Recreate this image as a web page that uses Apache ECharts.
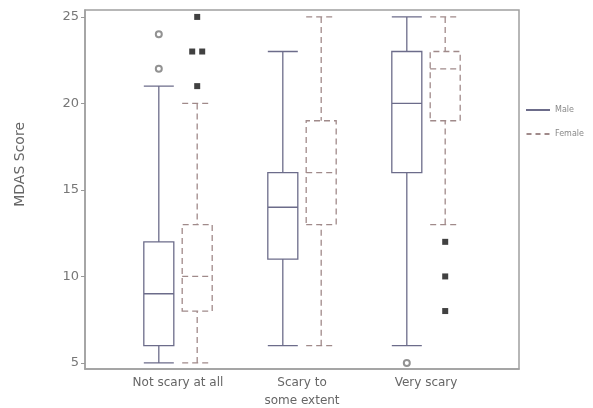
<!DOCTYPE html>
<html><head><meta charset="utf-8">
<script src="https://cdn.jsdelivr.net/npm/echarts@6/dist/echarts.min.js"></script>
<style>html,body{margin:0;padding:0;background:#fff}#c{width:593px;height:408px}</style>
</head><body><div id="c"></div>
<script>
const categories = ['Not scary at all', 'Scary to\nsome extent', 'Very scary'];
const yTicks = [5, 10, 15, 20, 25];
// [min, Q1, median, Q3, max]
const maleBoxes = [[5, 6, 9, 12, 21], [6, 11, 14, 16, 23], [6, 16, 20, 23, 25]];
const femaleBoxes = [[5, 8, 10, 13, 20], [6, 13, 16, 19, 25], [13, 19, 22, 23, 25]];
const maleOutliers = [[22, 24], [], [5]];
const femaleOutliers = [[21, 23, 23, 25], [], [8, 10, 12]];

const MALE = '#6c6c8a';
const FEMALE = '#a08a8a';
const OFF = 19.2;

// axis slots: an empty slot around every category
const slots = [];
categories.forEach(c => { slots.push(''); slots.push(c); });
slots.push('');
const slotOf = i => 2 * i + 1;

const boxData = boxes => boxes.map((b, i) => [slotOf(i)].concat(b));
function outlierData(groups, base) {
  const out = [];
  groups.forEach((vals, i) => {
    const counts = {};
    vals.forEach(v => { counts[v] = (counts[v] || 0) + 1; });
    const seen = {};
    vals.forEach(v => {
      const n = counts[v];
      const k = seen[v] = (seen[v] || 0) + 1;
      const dx = n > 1 ? (k - (n + 1) / 2) * 10 : 0;
      out.push({ value: [slotOf(i), v], symbolOffset: [base + dx, 0] });
    });
  });
  return out;
}

const chart = echarts.init(document.getElementById('c'), null, { renderer: 'canvas' });
const font = 'DejaVu Sans';
chart.setOption({
  animation: false,
  textStyle: { fontFamily: font },
  grid: { left: 85, right: 74, top: 10, bottom: 39, outerBoundsMode: 'none', containLabel: false,
    show: true, borderColor: '#a0a0a0', borderWidth: 1.5, backgroundColor: 'transparent' },
  legend: {
    orient: 'vertical', left: 521, top: 101, itemWidth: 24, itemHeight: 2, itemGap: 16,
    textStyle: { fontSize: 8, color: '#888', fontFamily: font },
    selectedMode: false,
    data: [
      { name: 'Male', icon: 'path://M0,0h24v2H0z', itemStyle: { color: MALE, borderWidth: 0 } },
      { name: 'Female', icon: 'path://M0,0h5v2H0z M9,0h5v2H9z M18,0h5v2H18z', itemStyle: { color: FEMALE, borderWidth: 0 } }
    ]
  },
  graphic: [{
    type: 'text', left: 13, top: 122, rotation: Math.PI / 2,
    style: { text: 'MDAS Score', fontSize: 14, fill: '#666', fontFamily: font }
  }],
  xAxis: {
    type: 'category', data: slots,
    axisTick: { show: false },
    axisLine: { lineStyle: { color: '#a0a0a0', width: 1.5 } },
    axisLabel: { interval: 0, color: '#666', fontSize: 12, lineHeight: 18, margin: 5 },
    splitLine: { show: false }
  },
  yAxis: {
    type: 'value', min: 4.65, max: 25.4,
    axisLine: { show: true, lineStyle: { color: '#a0a0a0', width: 1.5 } },
    axisTick: { show: true, length: 4, customValues: yTicks, lineStyle: { color: '#999' } },
    axisLabel: { customValues: yTicks, color: '#777', fontSize: 13, margin: 6 },
    splitLine: { show: false }
  },
  series: [
    { name: 'Male', type: 'boxplot', data: boxData(maleBoxes), encode: { x: 0, y: [1, 2, 3, 4, 5] },
      boxWidth: [30, 30], itemStyle: { color: '#fff', borderColor: MALE, borderWidth: 1.3 }, emphasis: { disabled: true } },
    { name: '_g1', type: 'boxplot', data: [], encode: { x: 0, y: [1, 2, 3, 4, 5] } },
    { name: '_g2', type: 'boxplot', data: [], encode: { x: 0, y: [1, 2, 3, 4, 5] } },
    { name: 'Female', type: 'boxplot', data: boxData(femaleBoxes), encode: { x: 0, y: [1, 2, 3, 4, 5] },
      boxWidth: [30, 30], itemStyle: { color: '#fff', borderColor: FEMALE, borderWidth: 1.3, borderType: [6, 4] }, emphasis: { disabled: true } },
    { name: 'Male outliers', type: 'scatter', data: outlierData(maleOutliers, -OFF), symbol: 'emptyCircle', symbolSize: 6,
      itemStyle: { color: '#777', borderColor: '#777', borderWidth: 1.2 }, emphasis: { disabled: true } },
    { name: 'Female outliers', type: 'scatter', data: outlierData(femaleOutliers, OFF), symbol: 'rect', symbolSize: 6,
      itemStyle: { color: '#111' }, emphasis: { disabled: true } }
  ]
});
</script></body></html>
